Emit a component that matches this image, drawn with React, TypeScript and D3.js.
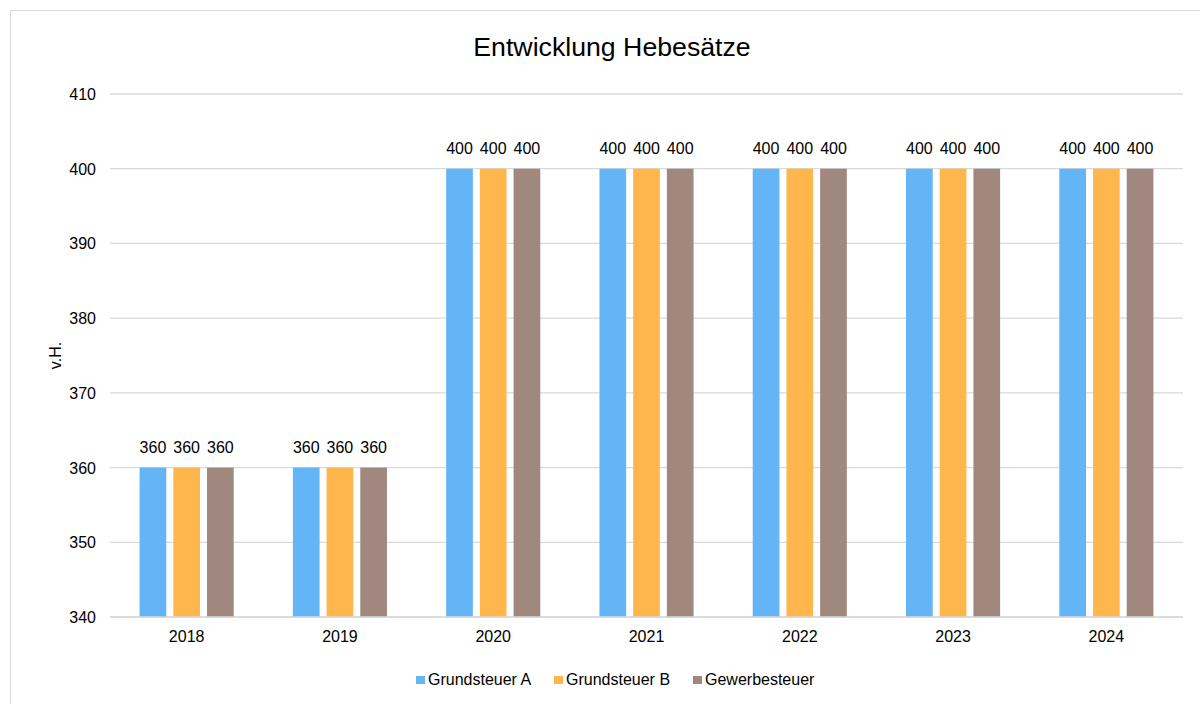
import React from "react";
import * as d3 from "d3";

const years = ["2018", "2019", "2020", "2021", "2022", "2023", "2024"];
const grundsteuerA = [360, 360, 400, 400, 400, 400, 400];
const grundsteuerB = [360, 360, 400, 400, 400, 400, 400];
const gewerbesteuer = [360, 360, 400, 400, 400, 400, 400];
const seriesNames = ["Grundsteuer A", "Grundsteuer B", "Gewerbesteuer"];
const seriesColors = ["#64B5F6", "#FFB74D", "#A1887F"];
const yTicks = [340, 350, 360, 370, 380, 390, 400, 410];

export default function App() {
  const W = 1200, H = 704;
  const left = 110, right = 1183, top = 94, bottom = 617;
  const x = d3.scaleBand().domain(years).range([left, right]).padding(0);
  const y = d3.scaleLinear().domain([340, 410]).range([bottom, top]);
  const barW = 26.7, gap = 7;
  const groupW = 3 * barW + 2 * gap;
  const series = [grundsteuerA, grundsteuerB, gewerbesteuer];
  const font = "'Liberation Sans', Arial, sans-serif";

  const legendX = [416, 554, 693];

  return (
    <svg width={W} height={H} style={{ position: "absolute", left: 0, top: 0 }} fontFamily={font}>
      <rect x={0} y={0} width={W} height={H} fill="#fff" />
      <rect x={10.5} y={10.5} width={1300} height={800} fill="none" stroke="#d9d9d9" strokeWidth={1} />
      <text x={612} y={56} textAnchor="middle" fontSize={26.7} fill="#000">Entwicklung Hebesätze</text>
      {yTicks.map((t) => (
        <g key={t}>
          <line x1={left} x2={right} y1={y(t)} y2={y(t)} stroke="#d9d9d9" strokeWidth={1.3} />
          <text x={96} y={y(t) + 6} textAnchor="end" fontSize={16} fill="#000">{t}</text>
        </g>
      ))}
      <text transform={`translate(61,${(top + bottom) / 2}) rotate(-90)`} textAnchor="middle" fontSize={16} fill="#000">v.H.</text>
      {years.map((yr, i) => {
        const cx = (x(yr) as number) + x.bandwidth() / 2;
        return (
          <g key={yr}>
            {series.map((s, j) => {
              const bx = cx - groupW / 2 + j * (barW + gap);
              return (
                <g key={j}>
                  <rect x={bx} y={y(s[i])} width={barW} height={bottom - y(s[i])} fill={seriesColors[j]} />
                  <text x={bx + barW / 2} y={y(s[i]) - 15} textAnchor="middle" fontSize={16} fill="#000">{s[i]}</text>
                </g>
              );
            })}
            <text x={cx} y={642} textAnchor="middle" fontSize={16} fill="#000">{yr}</text>
          </g>
        );
      })}
      <line x1={left} x2={right} y1={bottom} y2={bottom} stroke="#d9d9d9" strokeWidth={1.3} />
      {seriesNames.map((n, j) => (
        <g key={n}>
          <rect x={legendX[j]} y={676} width={9} height={8} fill={seriesColors[j]} />
          <text x={legendX[j] + 12} y={685} fontSize={16} fill="#000">{n}</text>
        </g>
      ))}
    </svg>
  );
}
